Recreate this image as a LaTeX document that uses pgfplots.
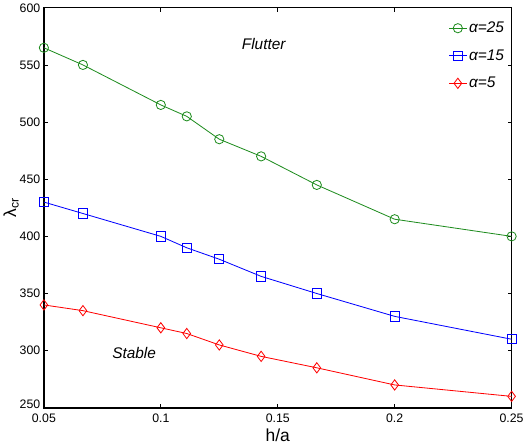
\documentclass[border=0pt]{standalone}
\usepackage{pgfplots}
\pgfplotsset{compat=1.18}
\usepackage{fontspec}
\setmainfont{Liberation Sans}
\definecolor{mgreen}{RGB}{30,140,30}
\begin{document}
\begin{tikzpicture}[x=1pt,y=1pt]
\begin{axis}[
  scale only axis,
  width=456pt, height=390pt,
  xmin=0.05, xmax=0.25, ymin=250, ymax=600,
  xtick={0.05,0.1,0.15,0.2,0.25},
  xticklabels={0.05,0.1,0.15,0.2,0.25},
  ytick={250,300,...,600},
  yticklabels={\raisebox{7pt}{250},300,350,400,450,500,550,600},
  tick align=inside,
  major tick length=4pt,
  tick style={black, line width=0.8pt},
  axis line style={black, line width=1.4pt},
  ticklabel style={font=\fontsize{12}{14}\selectfont},
  /pgf/number format/assume math mode=true,
  xticklabel style={yshift=-2pt},
  xlabel={h/a},
  ylabel={λ\textsubscript{cr}},
  xlabel style={font=\fontsize{17}{19}\selectfont, yshift=0pt},
  ylabel style={font=\fontsize{17}{19}\selectfont, yshift=-6pt},
  legend style={draw=none, fill=none, at={(0.995,0.975)}, anchor=north east,
    font=\fontsize{15}{17}\selectfont\itshape, row sep=11pt},
  legend cell align=left,
  every axis plot/.append style={line width=0.8pt},
]
\addplot[mgreen, mark=o, mark size=4.5pt, mark options={line width=0.8pt}] coordinates {
(0.05,565) (0.0667,550) (0.1,515) (0.1111,505) (0.125,485) (0.1429,470) (0.1667,445) (0.2,415) (0.25,400)};
\addlegendentry{α=25}
\addplot[blue, mark=square, mark size=4.5pt, mark options={line width=0.8pt}] coordinates {
(0.05,430) (0.0667,420) (0.1,400) (0.1111,390) (0.125,380) (0.1429,365) (0.1667,350) (0.2,330) (0.25,310)};
\addlegendentry{α=15}
\addplot[red, mark=diamond, mark size=5pt, mark options={line width=0.8pt}] coordinates {
(0.05,340) (0.0667,335) (0.1,320) (0.1111,315) (0.125,305) (0.1429,295) (0.1667,285) (0.2,270) (0.25,260)};
\addlegendentry{α=5}
\node[font=\fontsize{15}{17}\selectfont\itshape] at (axis cs:0.144,568) {Flutter};
\node[font=\fontsize{15}{17}\selectfont\itshape] at (axis cs:0.0886,298) {Stable};
\end{axis}
\end{tikzpicture}
\end{document}
